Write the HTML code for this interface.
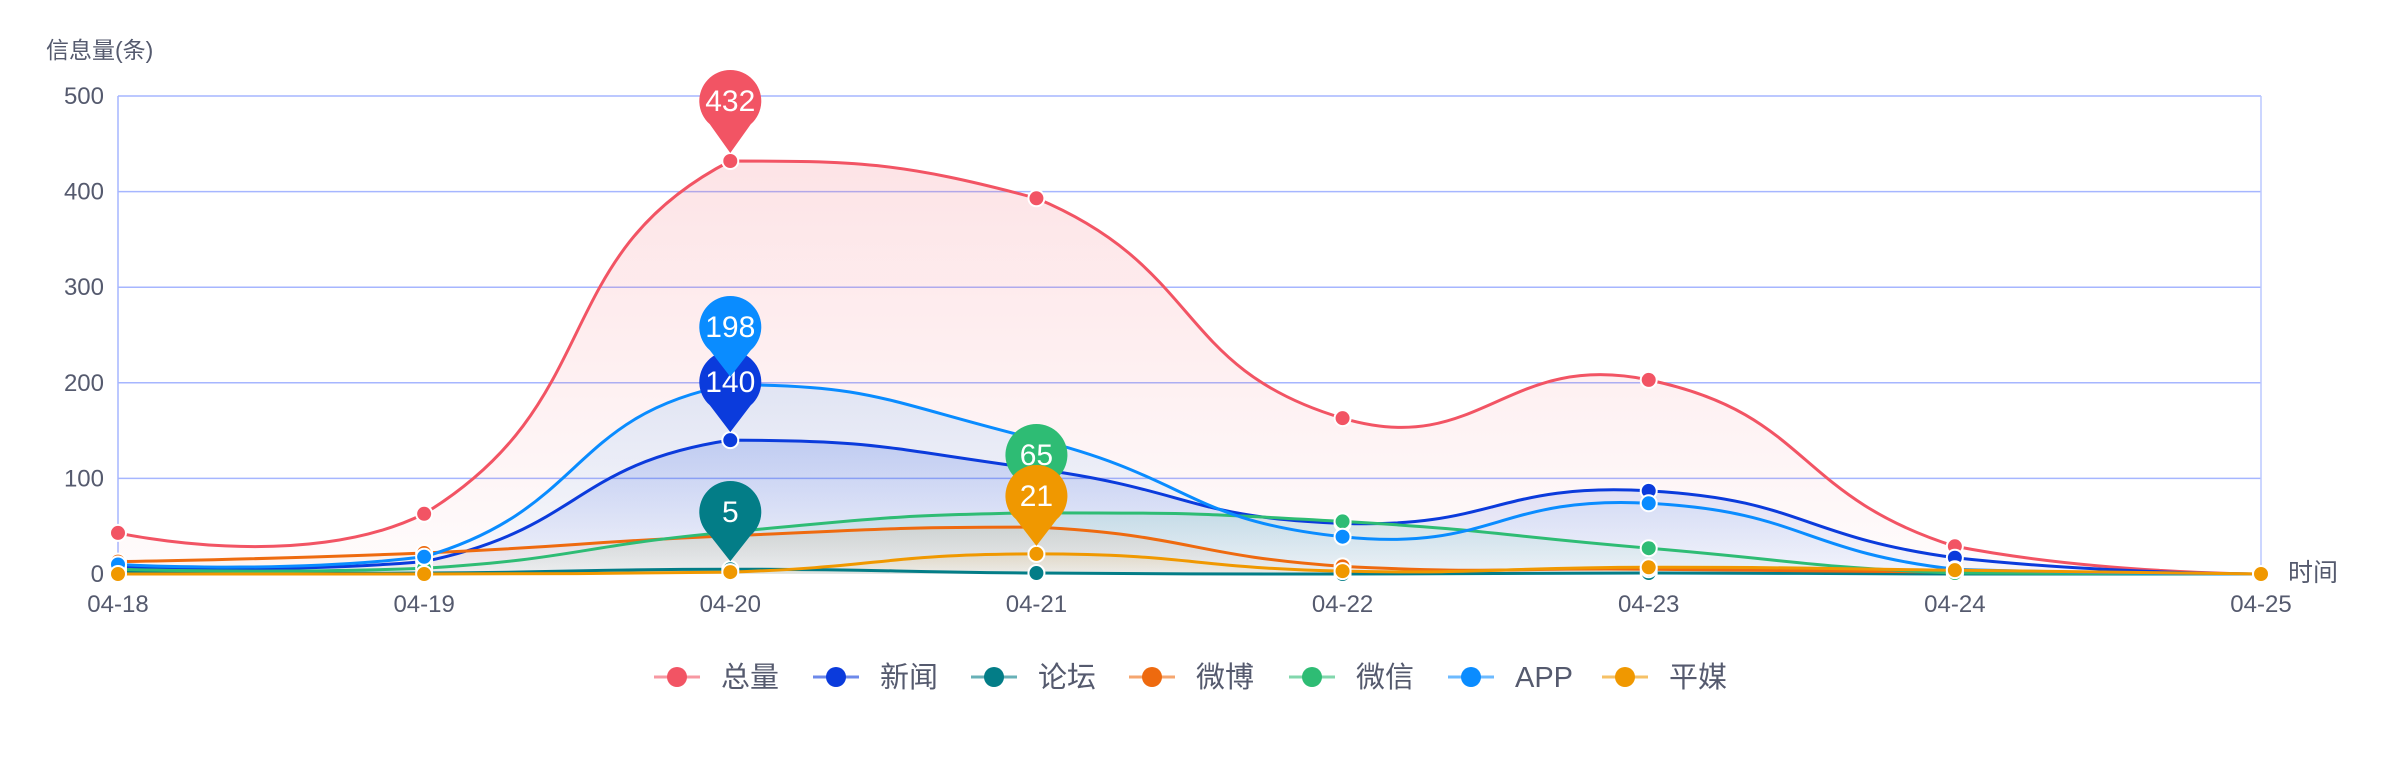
<!DOCTYPE html>
<html><head><meta charset="utf-8">
<style>
html,body{margin:0;padding:0;background:#fff;}
svg{display:block;font-family:"Liberation Sans","Noto Sans CJK SC",sans-serif;}
</style></head>
<body>
<svg id="c" width="2393" height="759" viewBox="0 0 2393 759" xmlns="http://www.w3.org/2000/svg">
<defs>
<linearGradient id="g0" x1="0" y1="0" x2="0" y2="1"><stop offset="0" stop-color="#f25464" stop-opacity="0.16"/><stop offset="1" stop-color="#f25464" stop-opacity="0.02"/></linearGradient>
<linearGradient id="g1" x1="0" y1="0" x2="0" y2="1"><stop offset="0" stop-color="#0b3bdc" stop-opacity="0.18"/><stop offset="1" stop-color="#0b3bdc" stop-opacity="0.03"/></linearGradient>
<linearGradient id="g2" x1="0" y1="0" x2="0" y2="1"><stop offset="0" stop-color="#037d87" stop-opacity="0.15"/><stop offset="1" stop-color="#037d87" stop-opacity="0.03"/></linearGradient>
<linearGradient id="g3" x1="0" y1="0" x2="0" y2="1"><stop offset="0" stop-color="#ee6a0f" stop-opacity="0.12"/><stop offset="1" stop-color="#ee6a0f" stop-opacity="0.03"/></linearGradient>
<linearGradient id="g4" x1="0" y1="0" x2="0" y2="1"><stop offset="0" stop-color="#2ebc74" stop-opacity="0.12"/><stop offset="1" stop-color="#2ebc74" stop-opacity="0.03"/></linearGradient>
<linearGradient id="g5" x1="0" y1="0" x2="0" y2="1"><stop offset="0" stop-color="#0a8cff" stop-opacity="0.12"/><stop offset="1" stop-color="#0a8cff" stop-opacity="0.02"/></linearGradient>
<linearGradient id="g6" x1="0" y1="0" x2="0" y2="1"><stop offset="0" stop-color="#f09800" stop-opacity="0.12"/><stop offset="1" stop-color="#f09800" stop-opacity="0.03"/></linearGradient>
</defs>
<g id="grid"></g>
<g id="areas"></g>
<g id="lines"></g>
<g id="dots"></g>
<g id="pins"></g>
<text x="46" y="58" font-size="23" fill="#555a6e">信息量(条)</text>
<text x="2288" y="581" font-size="25" fill="#555a6e">时间</text>
<g id="legend"></g>
</svg>
<script>
var NS="http://www.w3.org/2000/svg";
function el(p,t,a,txt){var e=document.createElementNS(NS,t);for(var k in a)e.setAttribute(k,a[k]);if(txt!==undefined)e.textContent=txt;document.getElementById(p).appendChild(e);return e;}
var X0=118,X1=2261,Y0=574,YT=96,dx=(X1-X0)/7,sy=(Y0-YT)/500;
function px(i){return X0+i*dx;} function py(v){return Y0-v*sy;}
for(var v=100;v<=500;v+=100){el("grid","line",{x1:X0,x2:X1,y1:py(v),y2:py(v),stroke:"#a6b6ff","stroke-width":1.5});}
el("grid","line",{x1:X0,x2:X0,y1:YT,y2:Y0,stroke:"#a6b6ff","stroke-width":1.5});
el("grid","line",{x1:X1,x2:X1,y1:YT,y2:Y0,stroke:"#bcc8ff","stroke-width":1.5});
for(var v=0;v<=500;v+=100){el("grid","text",{x:104,y:py(v)+8,"font-size":24,fill:"#555a6e","text-anchor":"end"},String(v));}
var days=["04-18","04-19","04-20","04-21","04-22","04-23","04-24","04-25"];
for(var i=0;i<8;i++){el("grid","text",{x:px(i),y:612,"font-size":24,fill:"#555a6e","text-anchor":"middle"},days[i]);}
var S=[
["总量","#f25464",[43,63,432,393,163,203,29,0]],
["新闻","#0b3bdc",[8,13,140,110,53,87,17,0]],
["论坛","#037d87",[2,1,5,1,0,1,0,0]],
["微博","#ee6a0f",[13,22,40,49,8,5,2,0]],
["微信","#2ebc74",[5,6,44,64,55,27,1,0]],
["APP","#0a8cff",[10,18,198,141,39,74,5,0]],
["平媒","#f09800",[0,0,2,21,3,7,4,0]]];
function smoothPath(pts){
 var mnY=Infinity,mxY=-Infinity;pts.forEach(function(p){mnY=Math.min(mnY,p[1]);mxY=Math.max(mxY,p[1]);});
 var cps=[];var s=0.5;
 for(var i=0;i<pts.length;i++){
  var c=pts[i];
  if(i==0||i==pts.length-1){cps.push([c,c]);continue;}
  var p=pts[i-1],n=pts[i+1];
  var vx=(n[0]-p[0])*s,vy=(n[1]-p[1])*s;
  var d0=Math.hypot(c[0]-p[0],c[1]-p[1]),d1=Math.hypot(c[0]-n[0],c[1]-n[1]);
  var r0=d0/(d0+d1),r1=d1/(d0+d1);
  var a=[c[0]-vx*r0,c[1]-vy*r0],b=[c[0]+vx*r1,c[1]+vy*r1];
  a[1]=Math.min(mxY,Math.max(mnY,a[1]));b[1]=Math.min(mxY,Math.max(mnY,b[1]));
  cps.push([a,b]);}
 var d="M"+pts[0][0]+","+pts[0][1];
 for(var i=1;i<pts.length;i++){var c1=cps[i-1][1],c2=cps[i][0];d+=" C"+c1[0]+","+c1[1]+" "+c2[0]+","+c2[1]+" "+pts[i][0]+","+pts[i][1];}
 return d;}
S.forEach(function(s,k){
 var pts=s[2].map(function(v,i){return [px(i),py(v)];});
 var d=smoothPath(pts);
 el("areas","path",{d:d+" L"+X1+","+Y0+" L"+X0+","+Y0+" Z",fill:"url(#g"+k+")"});
 el("lines","path",{d:d,fill:"none",stroke:s[1],"stroke-width":3});
 pts.forEach(function(p){el("dots","circle",{cx:p[0],cy:p[1],r:8,fill:s[1],stroke:"#fff","stroke-width":2});});
});
function pin(i,v,cy,col,label){
 var cx=px(i),r=31,ty=py(v)-8;
 var a=0.72,sx=r*Math.sin(a),syy=r*Math.cos(a);
 el("pins","path",{d:"M"+(cx-sx)+","+(cy+syy)+" A"+r+","+r+" 0 1 1 "+(cx+sx)+","+(cy+syy)+" L"+cx+","+ty+" Z",fill:col});
 el("pins","text",{x:cx,y:cy+10,"font-size":30,fill:"#fff","text-anchor":"middle"},label);
}
pin(2,432,101,"#f25464","432");
pin(2,140,382,"#0b3bdc","140");
pin(2,198,327,"#0a8cff","198");
pin(2,5,512,"#037d87","5");
pin(3,64,455,"#2ebc74","65");
pin(3,21,496,"#f09800","21");
var lx=[677,836,994,1152,1312,1471,1625];
S.forEach(function(s,k){
 var x=lx[k],y=677;
 el("legend","line",{x1:x-23,x2:x+23,y1:y,y2:y,stroke:s[1],"stroke-width":3,"stroke-opacity":0.6});
 el("legend","circle",{cx:x,cy:y,r:10,fill:s[1]});
 el("legend","text",{x:x+44,y:y+10,"font-size":29,fill:"#555a6e"},s[0]);
});
</script>
</body></html>
